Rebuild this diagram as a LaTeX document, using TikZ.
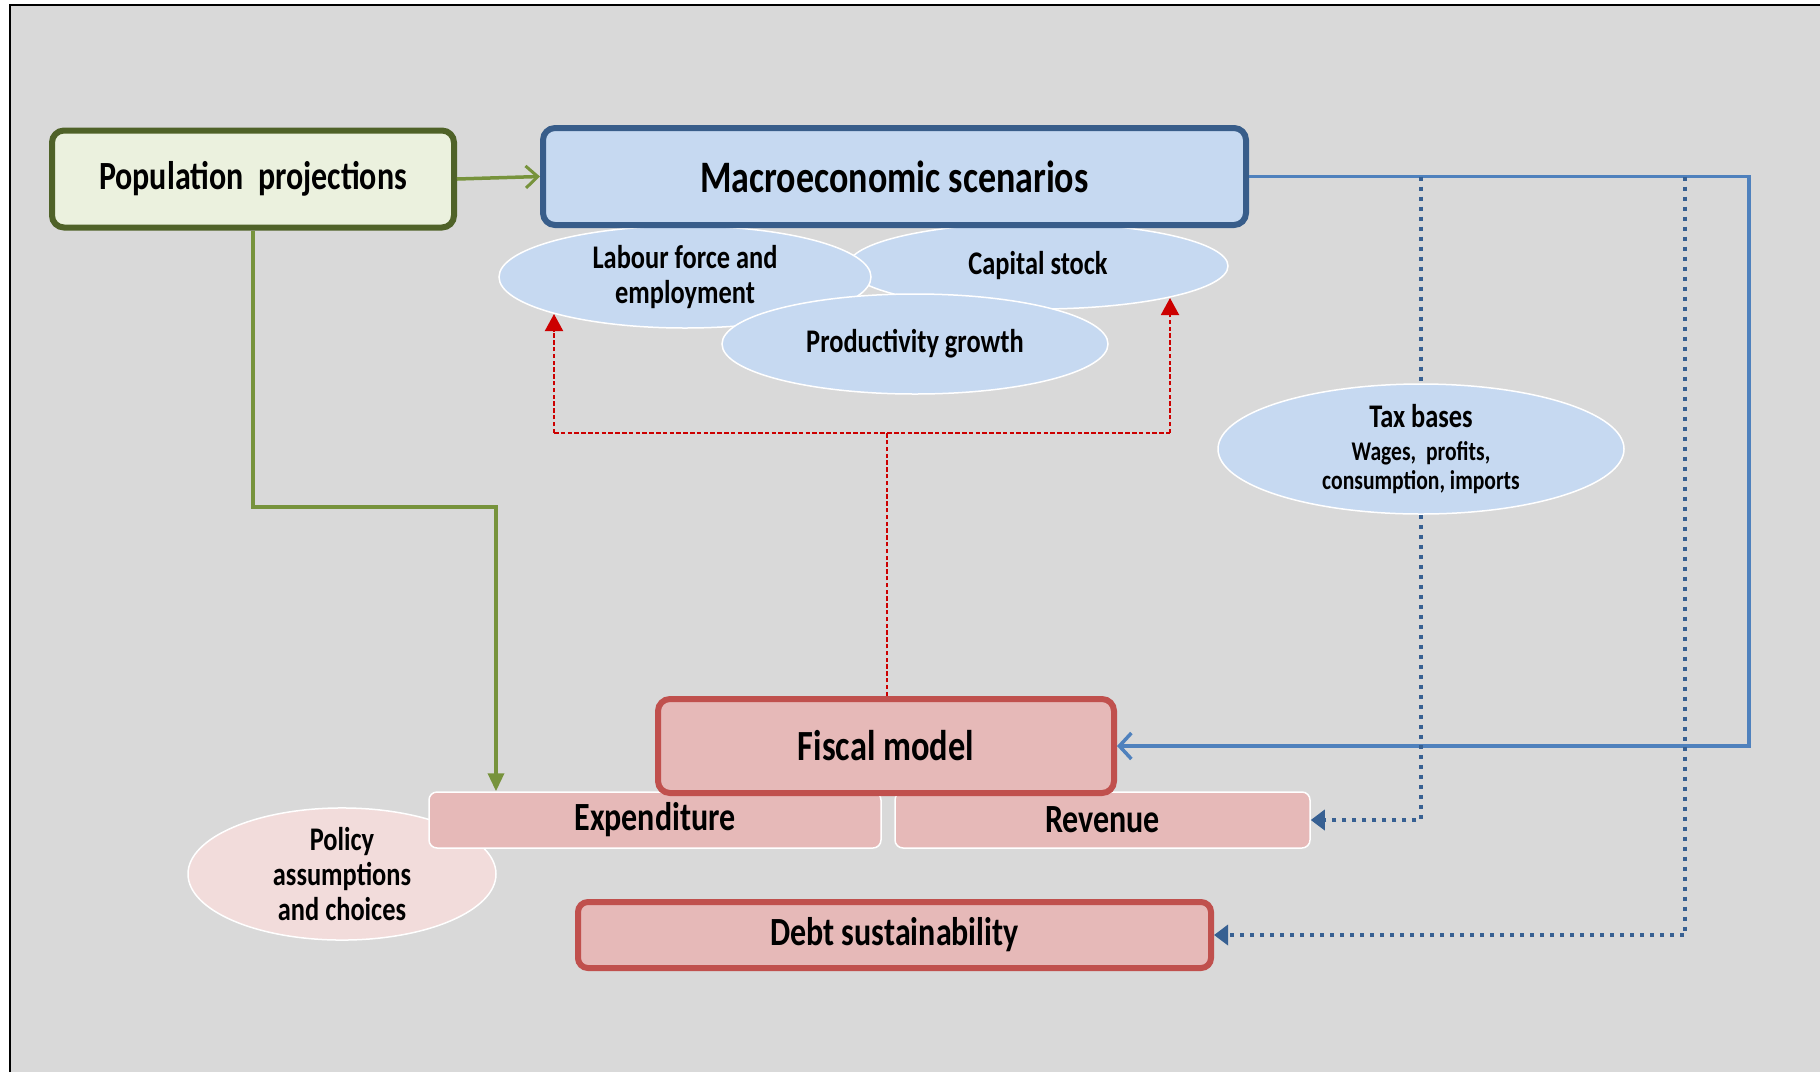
\documentclass[tikz,border=0pt]{standalone}
\usepackage{fontspec}
\setmainfont{Carlito}[FakeStretch=0.8]
\usetikzlibrary{shapes.geometric,arrows.meta,calc}
\definecolor{bggray}{HTML}{D9D9D9}
\definecolor{popfill}{HTML}{EBF1DE}
\definecolor{popdraw}{HTML}{4F6228}
\definecolor{macfill}{HTML}{C6D9F1}
\definecolor{macdraw}{HTML}{385D8A}
\definecolor{redfill}{HTML}{E6B9B8}
\definecolor{reddraw}{HTML}{C0504D}
\definecolor{pinkfill}{HTML}{F2DCDB}
\definecolor{greenline}{HTML}{77933C}
\definecolor{blueline}{HTML}{4F81BD}
\definecolor{bluedot}{HTML}{376092}
\definecolor{reddash}{HTML}{CC0000}
\tikzset{
  fsz/.style 2 args={font=\bfseries\fontsize{#1}{#2}\selectfont},
  bigbox/.style={rectangle, rounded corners=12pt, line width=6pt, inner sep=0pt, align=center},
  flatbox/.style={rectangle, rounded corners=8pt, draw=white, line width=1.5pt, fill=redfill, inner sep=0pt, align=center},
  ell/.style={ellipse, draw=white, line width=1.5pt, fill=macfill, inner sep=0pt, align=center},
  greenarr/.style={draw=greenline, line width=3.5pt},
  bluearr/.style={draw=blueline, line width=3.5pt},
  dotarr/.style={draw=bluedot, line width=4pt, dash pattern=on 4pt off 6pt},
  redarr/.style={draw=reddash, line width=2pt, dash pattern=on 4.5pt off 2.3pt}
}
\begin{document}
\begin{tikzpicture}[x=1pt,y=-1pt]
\useasboundingbox (0,0) rectangle (1820,1072);
\fill[white] (0,0) rectangle (1820,1072);
\fill[bggray] (10,5) rectangle (1820,1072);
\draw[black, line width=2.5pt] (10,1072) -- (10,5) -- (1820,5);

% ellipses under macro box
\node[ell, minimum width=380pt, minimum height=86pt, fsz={33}{35}] (cap) at (1038,266) {Capital stock};
\node[ell, minimum width=372pt, minimum height=102pt, fsz={33}{35}] (lab) at (685,277) {Labour force and\\employment};
\node[ell, minimum width=386pt, minimum height=100pt, fsz={33}{35}] (prod) at (915,344) {Productivity growth};
\node[ell, minimum width=406pt, minimum height=130pt, fsz={27}{29}] (tax) at (1421,449)
  {{\fontsize{33}{35}\selectfont Tax bases}\\[4pt]Wages,\ \ profits,\\consumption, imports};

\node[bigbox, draw=popdraw, fill=popfill, minimum width=402pt, minimum height=97pt, fsz={40}{44}] (pop) at (253,179) {Population\ \ projections};
\node[bigbox, draw=macdraw, fill=macfill, minimum width=703pt, minimum height=97pt, fsz={45}{50}] (mac) at (894.5,176.5) {Macroeconomic scenarios};

% fiscal group
\node[ellipse, draw=white, line width=1.5pt, fill=pinkfill, inner sep=0pt, align=center, minimum width=308pt, minimum height=124pt, fsz={33}{35}] (pol) at (342,874) {Policy\\assumptions\\and choices};
\node[flatbox, minimum width=452pt, minimum height=56pt, fsz={40}{44}] (exp) at (655,820) {Expenditure};
\node[flatbox, minimum width=415pt, minimum height=56pt, fsz={40}{44}] (rev) at (1102.5,820) {Revenue};
\node[bigbox, draw=reddraw, fill=redfill, minimum width=456pt, minimum height=94pt, fsz={43}{48}] (fis) at (886,746) {Fiscal model};
\node[bigbox, draw=reddraw, fill=redfill, rounded corners=10pt, minimum width=633pt, minimum height=66pt, fsz={40}{44}] (debt) at (894.5,935) {Debt sustainability};

% green connectors
\draw[greenarr, -{Straight Barb[length=12pt,width=22pt,line width=3pt]}] (pop.east) -- (mac.west);
\coordinate (g1) at (496,507);
\draw[greenarr, -{Triangle[length=18pt,width=16pt]}] (pop.south) |- (g1) -- (g1 |- exp.north);

% red dashed connectors
\coordinate (rj) at (887,433);
\coordinate (rl) at (554,433);
\coordinate (rr) at (1170,433);
\coordinate (rlt) at (554,314);
\coordinate (rrt) at (1170,298);
\draw[redarr] (fis.north -| rj) -- (rj);
\draw[redarr] (rl) -- (rr);
\draw[redarr, -{Triangle[length=17pt,width=18pt]}] (rl) -- (rlt);
\draw[redarr, -{Triangle[length=17pt,width=18pt]}] (rr) -- (rrt);

% blue solid
\coordinate (b1) at (1749,176.5);
\draw[bluearr, -{Straight Barb[length=12pt,width=26pt,line width=3.5pt]}] (mac.east) -- (b1) |- (fis.east);

% blue dotted
\coordinate (d1) at (1421,176.5);
\coordinate (d2) at (1421,820);
\coordinate (d3) at (1685,176.5);
\coordinate (d4) at (1685,935);
\draw[dotarr] (d1) -- (tax.north);
\draw[dotarr, -{Triangle[length=14pt,width=20pt]}] (tax.south) -- (d2) -- (rev.east);
\draw[dotarr, -{Triangle[length=14pt,width=20pt]}] (d3) -- (d4) -- (debt.east);
\end{tikzpicture}
\end{document}
